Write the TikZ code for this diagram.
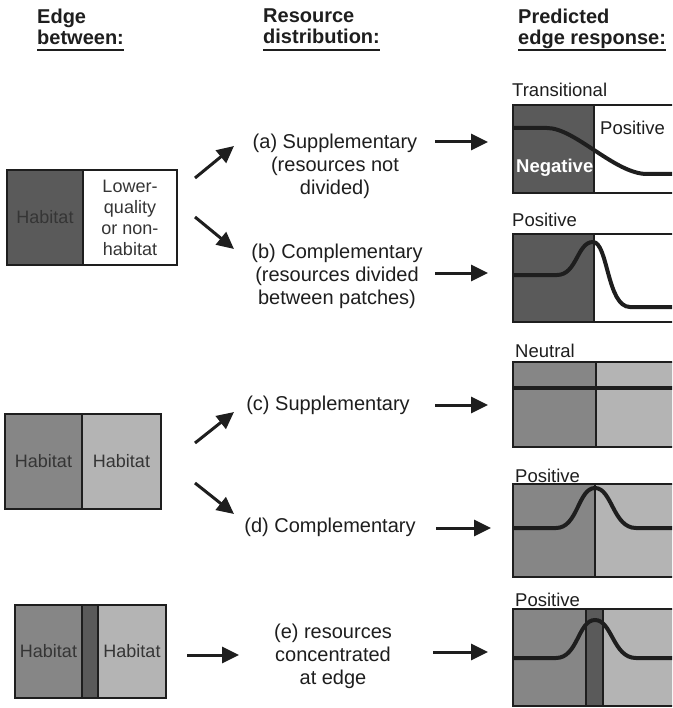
\documentclass[tikz,border=0pt]{standalone}
\usepackage{fontspec}
\setmainfont{Liberation Sans}
\usetikzlibrary{positioning,arrows.meta}
\definecolor{habdark}{HTML}{5A5A5A}
\definecolor{habmid}{HTML}{868686}
\definecolor{hablight}{HTML}{B4B4B4}
\definecolor{ink}{HTML}{1E1E1E}

\begin{document}
\begin{tikzpicture}[x=1pt, y=-1pt, node distance=0pt,
  patch/.style={draw=ink, line width=1.3pt, outer sep=0pt, inner sep=0pt, minimum height=95pt, align=center, text=ink!90, font=\fontsize{18}{21}\selectfont},
  head/.style={anchor=north west, inner sep=0pt, align=left, text=ink, font=\bfseries\fontsize{20}{21}\selectfont},
  body/.style={align=center, text=ink, font=\fontsize{20}{23}\selectfont},
  tag/.style={anchor=base west, inner sep=0pt, text=ink, font=\fontsize{18.5}{21}\selectfont},
  arr/.style={-{Triangle[length=17pt,width=16pt]}, line width=3pt, color=ink},
  curve/.style={line width=4pt, color=ink}]
\useasboundingbox[fill=white] (0,0) rectangle (672,708);
\clip (0,0) rectangle (672,708);

% column heads
\node[head] (h1) at (37,9) {Edge\\between:};
\node[head] (h2) at (263,9) {Resource\\distribution:};
\node[head] (h3) at (518,9) {Predicted\\edge response:};
\foreach \h in {h1,h2,h3}
  \draw[line width=1.8pt, color=ink] (\h.west |- 0,50) -- (\h.east |- 0,50);

% edges between patches
\node[patch, fill=habdark, minimum width=76pt] (lb1a) at (45,217.5) {Habitat};
\node[patch, fill=white, minimum width=94pt, right=of lb1a] (lb1b) {Lower-\\quality\\or non-\\habitat};
\node[patch, fill=habmid, minimum width=77pt] (lb2a) at (43.5,461.5) {Habitat};
\node[patch, fill=hablight, minimum width=79pt, right=of lb2a] (lb2b) {Habitat};
\node[patch, fill=habmid, minimum width=67pt, minimum height=93pt] (lb3a) at (48.5,651.5) {Habitat};
\node[patch, fill=habdark, minimum width=16pt, minimum height=93pt, right=of lb3a] (lb3s) {};
\node[patch, fill=hablight, minimum width=68pt, minimum height=93pt, right=of lb3s] (lb3b) {Habitat};

% resource distribution
\node[body] (a) at (335,166) {(a) Supplementary\\(resources not\\divided)};
\node[body] (b) at (337,276) {(b) Complementary\\(resources divided\\between patches)};
\node[body] (c) at (328,405) {(c) Supplementary};
\node[body] (d) at (330,527) {(d) Complementary};
\node[body] (e) at (333,656) {(e) resources\\concentrated\\at edge};

% predicted responses
\node[patch, fill=habdark, minimum width=81pt, minimum height=88pt] (rb1a) at (553.5,149) {};
\node[patch, fill=white, minimum width=86pt, minimum height=88pt, right=of rb1a] (rb1b) {};
\node[patch, fill=habdark, minimum width=81pt, minimum height=88pt] (rb2a) at (553.5,278) {};
\node[patch, fill=white, minimum width=86pt, minimum height=88pt, right=of rb2a] (rb2b) {};
\node[patch, fill=habmid, minimum width=83pt, minimum height=85pt] (rb3a) at (554.5,404.5) {};
\node[patch, fill=hablight, minimum width=84pt, minimum height=85pt, right=of rb3a] (rb3b) {};
\node[patch, fill=habmid, minimum width=82pt, minimum height=93pt] (rb4a) at (554,530.5) {};
\node[patch, fill=hablight, minimum width=85pt, minimum height=93pt, right=of rb4a] (rb4b) {};
\node[patch, fill=habmid, minimum width=73pt, minimum height=97pt] (rb5a) at (549.5,657.5) {};
\node[patch, fill=habdark, minimum width=17pt, minimum height=97pt, right=of rb5a] (rb5s) {};
\node[patch, fill=hablight, minimum width=77pt, minimum height=97pt, right=of rb5s] (rb5b) {};

\node[tag] (t1) at (512,97) {Transitional};
\node[tag] (t2) at (512,227) {Positive};
\node[tag] (t3) at (515,357) {Neutral};
\node[tag] (t4) at (515,482) {Positive};
\node[tag] (t5) at (515,606) {Positive};
\node[tag, text=white, font=\bfseries\fontsize{18.5}{21}\selectfont] (neg) at (516,173) {Negative};
\node[tag] (pos) at (600,135) {Positive};

% response curves
\draw[curve] (513,128) -- (547,128) .. controls (575,128) and (615,174) .. (647,174) -- (680,174);
\draw[curve] (513,275) -- (557,275) .. controls (577,275) and (577,242) .. (593,242) .. controls (608,242) and (607,307) .. (630,307) -- (680,307);
\draw[curve] (513,388) -- (680,388);
\draw[curve] (513,528) -- (556,528) .. controls (578,528) and (578,488) .. (595,488) .. controls (612,488) and (613,528) .. (636,528) -- (680,528);
\draw[curve] (513,658) -- (556,658) .. controls (578,658) and (578,620) .. (595,620) .. controls (612,620) and (613,658) .. (636,658) -- (680,658);

% arrows
\coordinate (lb1-up) at (195,178);
\coordinate (lb1-dn) at (195,217);
\coordinate (lb2-up) at (195,443);
\coordinate (lb2-dn) at (195,483);
\coordinate (lb3-out) at (187,655);
\coordinate (a-in) at (234,146);
\coordinate (b-in) at (234,249);
\coordinate (c-in) at (234,412);
\coordinate (d-in) at (234,514);
\coordinate (e-in) at (239,655);
\coordinate (a-out) at (435,142);
\coordinate (b-out) at (435,273);
\coordinate (c-out) at (435,405);
\coordinate (d-out) at (436,528);
\coordinate (e-out) at (433,652);
\coordinate (rb1-in) at (488,142);
\coordinate (rb2-in) at (488,273);
\coordinate (rb3-in) at (488,405);
\coordinate (rb4-in) at (491,528);
\coordinate (rb5-in) at (488,652);
\foreach \s/\t in {lb1-up/a-in, lb1-dn/b-in, lb2-up/c-in, lb2-dn/d-in, lb3-out/e-in,
                   a-out/rb1-in, b-out/rb2-in, c-out/rb3-in, d-out/rb4-in, e-out/rb5-in}
  \draw[arr] (\s) -- (\t);
\end{tikzpicture}
\end{document}
